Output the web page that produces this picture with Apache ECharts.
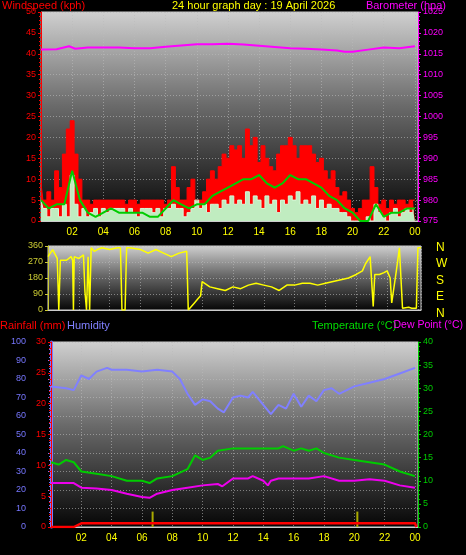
<!DOCTYPE html>
<html><head><meta charset="utf-8">
<script src="https://cdn.jsdelivr.net/npm/echarts@6/dist/echarts.min.js"></script>
<style>html,body{margin:0;padding:0;background:#000}#c{width:466px;height:555px}</style>
</head><body><div id="c"></div>
<script>
// wind at quarter-hour steps
const gust = [9,5,7,5, 12,8,16,22, 24,16,10,5, 5,4,5,5, 5,5,5,5, 5,5,4,5, 5,4,5,5, 5,5,5,5, 4,5,13,8, 5,5,8,10, 5,5,7,10, 12,10,13,16, 15,18,17,18, 15,22,18,20, 14,18,15,13, 12,16,18,18, 20,18,15,18, 18,18,16,14, 15,12,10,12, 8,6,7,5, 3,2,3,5, 5,13,8,4, 5,3,5,4, 5,5,4,5, 5];
const avgSpeed = [5,3,1,3, 3,1,4,1, 11,4,1,3, 1,2,3,1, 3,2,3,3, 3,3,2,3, 2,1,3,3, 3,2,3,1, 3,3,4,3, 3,1,2,3, 5,3,4,2, 4,4,3,5, 4,6,4,5, 4,7,4,6, 5,3,6,4, 5,2,5,4, 6,5,7,4, 5,4,6,3, 5,3,4,3, 3,2,2,1, 0,0,0,0, 1,0,4,2, 1,0,2,3, 1,2,3,2, 3];
const quarterHours = gust.map((_, i)=>i/4);
const halfHours = Array.from({length:49},(_, i)=>i/2);
const avgSmooth = [5,3,4,4,12,5,2,1,2,3,2,2,2,2,1,1,3,5,4,3,4,4,6,7,8,9,10,10,11,9,8,9,11,10,10,9,8,6,5,3,2,0,0,4,1,2,2,3,3];
const baroHours = [0,1,1.8,2.2,3,4,5,6,7,8,9,10,11,12,13,14,15,16,17,18,19,19.5,20,21,22,23,24];
const baro = [1016,1016.1,1016.8,1016.2,1016.5,1016.5,1016.5,1016.3,1016.3,1016.7,1017,1017.3,1017.3,1017.4,1017.2,1016.9,1016.6,1016.3,1016.2,1016,1015.8,1015.5,1015.5,1016,1016.5,1016.3,1016.8];
const dirHours = [0,0.3,0.6,0.7,0.75,0.8,1.2,1.5,1.6,1.65,1.7,2,2.3,2.4,2.5,2.6,2.7,2.8,3,3.2,3.5,4,4.5,4.7,4.8,5,5.1,5.3,6,6.5,7,7.5,8,8.5,9,9.1,9.3,9.5,9.7,9.9,10,10.5,11,11.5,12,12.5,13,13.5,14,14.5,15,15.5,16,16.5,17,17.5,18,18.5,19,19.5,20,20.4,20.6,20.9,21.1,21.2,21.5,21.8,22,22.2,22.3,22.6,22.8,23,23.1,23.4,23.6,23.9,24,24.2];
const dirVals = [300,340,290,0,0,280,280,300,280,0,300,290,310,100,0,300,0,350,330,340,350,340,350,350,0,0,350,350,340,320,340,320,300,320,330,0,20,40,60,80,160,130,120,110,130,120,140,150,140,130,110,140,140,150,150,140,150,160,170,180,200,220,260,300,20,200,200,210,220,180,40,220,350,10,20,15,10,10,350,350];
const humHours = [0,1,1.5,2,2.5,3,3.7,4,5,6,7,8,8.5,9,9.5,10,10.5,11,11.4,12,12.5,13,13.3,14,14.5,15,15.5,16,16.5,17,17.5,18,18.5,19,20,21,22,23,24];
const humidity = [76,75,74,82,80,84,86,85,85,84,85,84,80,72,66,69,68,64,62,70,71,70,73,66,61,66,64,72,65,71,68,74,75,72,76,78,80,83,86];
const tempHours = [0,0.5,1,1.5,2,3,4,5,6,6.5,7,8,9,9.5,10,10.5,11,12,13,14,15,15.3,16,16.5,17,17.5,18,19,20,21,22,23,24];
const temperature = [14,13.5,14.5,14,12,11.5,11,10,10,9.5,10.5,11,12.5,15.5,14.5,15,16.5,17,17,17,17,17.5,16.5,17,16.5,17,16,15,14.5,14,13.5,12,11];
const dewHours = [0,1,1.5,2,3,4,5,6,6.5,7,8,9,10,11,11.3,12,13,13.3,14,14.3,14.5,15,16,17,18,19,20,21,22,23,24];
const dewPoint = [9.5,9.5,9.5,8.5,8.3,8,7.2,6.5,6.3,7.2,8,8.5,9,9.3,8.8,10.5,10.5,11,10,9,10,10.5,10.5,10.5,11,10,10,10.3,10,9,8.5];
const rainHours = [0,1.5,2,24,24.1];
const rainfall = [0,0,0.6,0.6,0];
const rateHours = [6.7,20.2];
const rainRate = [2.5,2.5];
const hourTicks = ['02','04','06','08','10','12','14','16','18','20','22','00'];

const zip=(a,b)=>a.map((x,i)=>[x,b[i]]);
const bg={type:'linear',x:0,y:0,x2:0,y2:1,colorStops:[{offset:0,color:'#d0d0d0'},{offset:0.45,color:'#6a6a6a'},{offset:1,color:'#050505'}]};
const F='Liberation Sans';
const split={show:true,lineStyle:{color:'#bbbbbb',type:[1,2],width:1,opacity:0.6}};
function xAx(gi,show){return {type:'value',gridIndex:gi,min:0,max:24.2,interval:2,
  axisLine:{lineStyle:{color:'#cccccc'}},axisTick:{show:false},splitLine:split,
  axisLabel:{show:show,color:'#ffff00',fontFamily:F,fontSize:10,margin:6,showMinLabel:false,showMaxLabel:false,
  formatter:v=>{if(v<=0||v>24.1)return '';return hourTicks[Math.round(v/2)-1];}}};}
function yAx(gi,pos,min,max,intv,col,extra){return Object.assign({type:'value',gridIndex:gi,position:pos,min:min,max:max,interval:intv,
  axisLine:{show:true,lineStyle:{color:col}},axisTick:{show:true,length:3,lineStyle:{color:col}},
  minorTick:{show:true,splitNumber:5,length:2,lineStyle:{color:col}},
  splitLine:{show:false},axisLabel:{color:col,fontFamily:F,fontSize:9,margin:5,formatter:v=>String(v)}},extra||{});}
const opt={backgroundColor:'#000',animation:false,
 grid:[{left:41,right:48,top:12,height:209,show:true,backgroundColor:bg,borderColor:'#cccccc'},
       {left:48,right:45,top:246,height:64,show:true,backgroundColor:bg,borderColor:'#cccccc'},
       {left:51,right:48,top:342,height:185,show:true,backgroundColor:bg,borderColor:'#cccccc'}],
 xAxis:[xAx(0,true),xAx(1,false),xAx(2,true)],
 yAxis:[yAx(0,'left',0,50,5,'#ff0000',{splitLine:split}),
        yAx(0,'right',975,1025,5,'#ff00ff'),
        yAx(1,'left',0,360,90,'#cccc33',{splitLine:split,minorTick:{show:false}}),
        yAx(2,'left',0,100,10,'#7777ff',{offset:20,splitLine:split,axisLine:{show:true,lineStyle:{color:'#7777ff',width:3}}}),
        yAx(2,'left',0,30,5,'#ff0000'),
        yAx(2,'right',0,40,5,'#00cc00')],
 series:[
  {type:'line',xAxisIndex:0,yAxisIndex:0,data:zip(quarterHours,gust),step:'middle',symbol:'none',lineStyle:{color:'#ff0000',width:1},areaStyle:{color:'#ff0000',opacity:1}},
  {type:'line',xAxisIndex:0,yAxisIndex:0,data:zip(quarterHours,avgSpeed),step:'middle',symbol:'none',lineStyle:{color:'#d8f8d8',width:1},areaStyle:{color:'#c0ecc0',opacity:1}},
  {type:'line',xAxisIndex:0,yAxisIndex:0,data:zip(halfHours,avgSmooth),symbol:'none',lineStyle:{color:'#00cc00',width:2}},
  {type:'line',xAxisIndex:0,yAxisIndex:1,data:zip(baroHours,baro),symbol:'none',lineStyle:{color:'#ff00ff',width:2}},
  {type:'line',xAxisIndex:1,yAxisIndex:2,data:zip(dirHours,dirVals),symbol:'none',lineStyle:{color:'#ffff00',width:1.5}},
  {type:'line',xAxisIndex:2,yAxisIndex:3,data:zip(humHours,humidity),symbol:'none',lineStyle:{color:'#8080ff',width:2}},
  {type:'line',xAxisIndex:2,yAxisIndex:5,data:zip(tempHours,temperature),symbol:'none',lineStyle:{color:'#00cc00',width:2}},
  {type:'line',xAxisIndex:2,yAxisIndex:5,data:zip(dewHours,dewPoint),symbol:'none',lineStyle:{color:'#ee00ee',width:2}},
  {type:'line',xAxisIndex:2,yAxisIndex:4,data:zip(rainHours,rainfall),symbol:'none',lineStyle:{color:'#ff0000',width:2.5}},
  {type:'bar',xAxisIndex:2,yAxisIndex:4,data:zip(rateHours,rainRate),barWidth:2,itemStyle:{color:'#aaaa00'}}
 ],
 graphic:[
  {type:'text',left:2,top:0,style:{text:'Windspeed (kph)',fill:'#ff0000',font:'11px '+F}},
  {type:'text',left:172,top:0,style:{text:'24 hour graph day : 19 April 2026',fill:'#ffff00',font:'11px '+F}},
  {type:'text',right:20,top:0,style:{text:'Barometer (hpa)',fill:'#ff00ff',font:'11px '+F}},
  {type:'text',left:0,top:320,style:{text:'Rainfall (mm)',fill:'#ff0000',font:'11px '+F}},
  {type:'text',left:67,top:320,style:{text:'Humidity',fill:'#8080ff',font:'11px '+F}},
  {type:'text',left:312,top:320,style:{text:'Temperature (°C)',fill:'#00dd00',font:'11px '+F}},
  {type:'text',right:3,top:320,style:{text:'Dew Point (°C)',fill:'#ff00ff',font:'10.5px '+F}},
  {type:'text',left:436,top:239,style:{text:'N\nW\nS\nE\nN',fill:'#ffff00',font:'12px '+F,lineHeight:16.5}}
 ]};
echarts.init(document.getElementById('c')).setOption(opt);
</script></body></html>
